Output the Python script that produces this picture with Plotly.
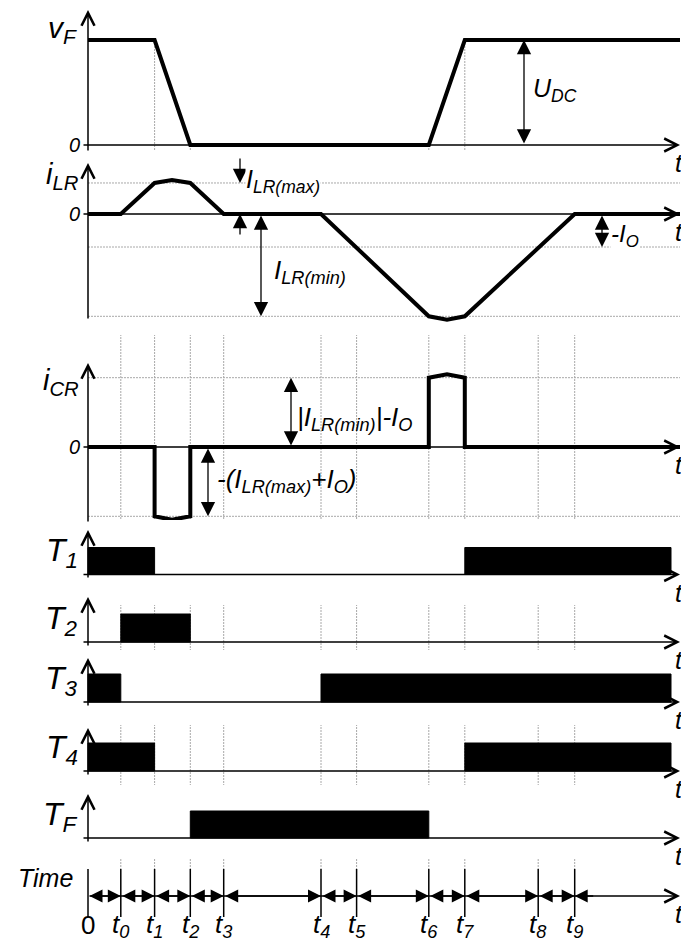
import plotly.graph_objects as go

W, H = 681, 942
FONT = "Liberation Sans, Arial, sans-serif"

# ---- switching instants (arbitrary time units) ----
TIME_LABELS = ["0", "t<sub>0</sub>", "t<sub>1</sub>", "t<sub>2</sub>", "t<sub>3</sub>",
               "t<sub>4</sub>", "t<sub>5</sub>", "t<sub>6</sub>", "t<sub>7</sub>",
               "t<sub>8</sub>", "t<sub>9</sub>"]
TIMES = [0.0, 32.8, 66.6, 102.3, 135.7, 233.0, 268.6, 340.8, 376.8, 450.2, 486.7]
t0, t1, t2, t3, t4, t5, t6, t7, t8, t9 = TIMES[1:]
BAR_END = 583.0
AXIS_END = 592.0
PEAK_1 = 84.0    # extreme of the resonant pulse between t1 and t2
PEAK_2 = 359.0   # extreme of the resonant pulse between t6 and t7

# ---- auxiliary switch voltage v_F (per unit of U_DC) ----
VF_T = [0, t1, t2, t6, t7, AXIS_END]
VF = [1, 1, 0, 0, 1, 1]

# ---- resonant inductor current i_LR ----
I_LR_MAX = 0.94
I_O = 1.0
I_LR_MIN = -3.1
ILR_T = [0, t0, t1, PEAK_1, t2, t3, t4, t6, PEAK_2, t7, t9, AXIS_END]
ILR = [0, 0, 0.94, 1.03, 0.94, 0, 0, -3.1, -3.2, -3.1, 0, 0]

# ---- resonant capacitor current i_CR ----
ICR_POS = 2.1
ICR_NEG = -2.1
ICR_T = [0, t1, t1, PEAK_1, t2, t2, t6, t6, PEAK_2, t7, t7, AXIS_END]
ICR = [0, 0, -2.1, -2.2, -2.1, 0, 0, 2.1, 2.2, 2.1, 0, 0]

# ---- gate signals: conduction intervals ----
GATES = {
    "T1": [(0, t1), (t7, BAR_END)],
    "T2": [(t0, t2)],
    "T3": [(0, t0), (t4, BAR_END)],
    "T4": [(0, t1), (t7, BAR_END)],
    "TF": [(t2, t6)],
}
GATE_TITLES = {"T1": "T<sub>1</sub>", "T2": "T<sub>2</sub>", "T3": "T<sub>3</sub>",
               "T4": "T<sub>4</sub>", "TF": "T<sub>F</sub>"}

# ---- panel geometry (pixels from the top of the page) ----
PANELS = {
    "vF":   dict(axis="y",  zero=145,   scale=105, top=0,   bottom=175, ax_top=10,  ax_bot=152),
    "iLR":  dict(axis="y2", zero=214,   scale=33,  top=150, bottom=335, ax_top=163, ax_bot=320),
    "iCR":  dict(axis="y3", zero=447,   scale=33,  top=350, bottom=535, ax_top=363, ax_bot=523),
    "T1":   dict(axis="y4", zero=574.5, scale=27,  top=520, bottom=605, ax_top=530, ax_bot=579),
    "T2":   dict(axis="y5", zero=642,   scale=28,  top=590, bottom=660, ax_top=597, ax_bot=647),
    "T3":   dict(axis="y6", zero=702,   scale=28,  top=650, bottom=725, ax_top=658, ax_bot=707),
    "T4":   dict(axis="y7", zero=771,   scale=28,  top=720, bottom=795, ax_top=728, ax_bot=776),
    "TF":   dict(axis="y8", zero=838,   scale=27,  top=785, bottom=858, ax_top=794, ax_bot=843),
    "time": dict(axis="y9", zero=896,   scale=27,  top=860, bottom=942),
}


def val(panel, px):
    p = PANELS[panel]
    return (p["zero"] - px) / p["scale"]


def paper_y(px):
    return 1 - px / H


def paper_y_val(panel, v):
    p = PANELS[panel]
    return paper_y(p["zero"] - v * p["scale"])


def paper_x(px):
    return px / W


fig = go.Figure()
shapes = []
annotations = []

LINE_W = 4


def add_wave(panel, xs, ys):
    fig.add_trace(go.Scatter(x=xs, y=ys, mode="lines", yaxis=PANELS[panel]["axis"],
                             line=dict(color="black", width=LINE_W), hoverinfo="skip"))


def arrow(panel, x, y, ax, ay, head=2, both=False, width=1.3, size=2.2):
    ref = PANELS[panel]["axis"]
    annotations.append(dict(
        x=x, y=y, ax=ax, ay=ay, xref="x", yref=ref, axref="x", ayref=ref,
        text="", showarrow=True, arrowhead=head, startarrowhead=head,
        arrowside="end+start" if both else "end",
        arrowwidth=width, arrowsize=size, startarrowsize=size,
        arrowcolor="black", standoff=0, startstandoff=0))


def label(text, xpx, ypx, size, anchor="right", color="black"):
    annotations.append(dict(
        x=paper_x(xpx), y=paper_y(ypx), xref="paper", yref="paper", text=text,
        showarrow=False, xanchor=anchor, yanchor="middle",
        font=dict(family=FONT, size=size, color=color)))


def boxed_label(text, xpx, ypx, size):
    annotations.append(dict(
        x=paper_x(xpx), y=paper_y(ypx), xref="paper", yref="paper", text=text,
        showarrow=False, xanchor="left", yanchor="middle", bgcolor="white",
        borderpad=0, font=dict(family=FONT, size=size, color="black")))


# ---- dotted vertical grid lines: from the waveform event down to the time ticks ----
GRID_START = [("iLR", 0), ("vF", 1), ("vF", 0), ("iLR", 0), ("iLR", 0),
              ("iLR", -I_O), ("vF", 0), ("vF", 1), ("iLR", -I_O), ("iLR", 0)]
tick_top = val("time", 869)
for tx, (pn, v) in zip(TIMES[1:], GRID_START):
    shapes.append(dict(type="line", xref="x", yref="paper", x0=tx, x1=tx,
                       y0=paper_y_val(pn, v), y1=paper_y_val("time", tick_top),
                       line=dict(color="#a8a8a8", width=1, dash="2px,1px"), layer="below"))

# ---- dotted horizontal reference levels ----
for pn, lv in [("iLR", I_LR_MAX), ("iLR", -I_O), ("iLR", I_LR_MIN),
               ("iCR", ICR_POS), ("iCR", ICR_NEG)]:
    shapes.append(dict(type="line", xref="x", yref=PANELS[pn]["axis"], x0=0, x1=AXIS_END,
                       y0=lv, y1=lv, line=dict(color="#a8a8a8", width=1, dash="2px,1px"),
                       layer="below"))

# ---- coordinate axes with open arrowheads ----
for pn, p in PANELS.items():
    if pn == "time":
        continue
    arrow(pn, AXIS_END, 0, -6, 0, head=5, width=1.5, size=1.7)
    arrow(pn, 0, val(pn, p["ax_top"]), 0, val(pn, p["ax_bot"]), head=5, width=1.5, size=1.7)
    label("<i>t</i>", 673, p["zero"] + 18, 25, anchor="left")
arrow("time", AXIS_END, 0, 0, 0, head=5, width=1.5, size=1.7)
label("<i>t</i>", 673, 896 + 18, 25, anchor="left")

# ---- waveforms ----
add_wave("vF", VF_T, VF)
add_wave("iLR", ILR_T, ILR)
add_wave("iCR", ICR_T, ICR)

for g, spans in GATES.items():
    for a, b in spans:
        fig.add_trace(go.Scatter(x=[a, a, b, b, a], y=[0, 1, 1, 0, 0], mode="lines",
                                 fill="toself", fillcolor="black",
                                 line=dict(color="black", width=1),
                                 yaxis=PANELS[g]["axis"], hoverinfo="skip"))

# ---- axis titles ----
label("<i>v<sub>F</sub></i>", 79, 30, 30)
label("<i>i<sub>LR</sub></i>", 81, 176, 29)
label("<i>i<sub>CR</sub></i>", 81, 382, 29)
label("<i>0</i>", 82, 145, 20)
label("<i>0</i>", 82, 214, 20)
label("<i>0</i>", 82, 447, 20)
for g in GATES:
    label("<i>%s</i>" % GATE_TITLES[g], 80, PANELS[g]["zero"] - 22, 32)
label("<i>Time</i>", 75, 878, 25)

# ---- dimension arrows and their labels ----
U_X = 436
arrow("vF", U_X, 1, U_X, 0, head=2, both=True)
label("<i>U<sub>DC</sub></i>", 531, 90, 25, anchor="left")

MAX_X = 152
arrow("iLR", MAX_X, I_LR_MAX, MAX_X, val("iLR", 157))
arrow("iLR", MAX_X, 0, MAX_X, val("iLR", 236))
boxed_label("<i>I<sub>LR(max)</sub></i>", 245, 181, 25)

MIN_X = 173
arrow("iLR", MIN_X, I_LR_MIN, MIN_X, 0, head=2, both=True)
boxed_label("<i>I<sub>LR(min)</sub></i>", 273, 272, 26)

IO_X = 514
arrow("iLR", IO_X, -I_O, IO_X, 0, head=2, both=True)
boxed_label("<i>-I<sub>O</sub></i>", 610, 236, 24)

POS_X = 203
arrow("iCR", POS_X, ICR_POS, POS_X, 0, head=2, both=True)
label("<i>|I<sub>LR(min)</sub>|-I<sub>O</sub></i>", 295, 418, 26, anchor="left")

NEG_X = 120
arrow("iCR", NEG_X, ICR_NEG, NEG_X, 0, head=2, both=True)
label("<i>-(I<sub>LR(max)</sub>+I<sub>O</sub>)</i>", 215, 480, 26, anchor="left")

# ---- time axis: ticks, interval arrows, instant labels ----
tick_bot = val("time", 917)
for tx in TIMES:
    shapes.append(dict(type="line", xref="x", yref="y9", x0=tx, x1=tx, y0=tick_bot, y1=tick_top,
                       line=dict(color="black", width=1.5)))
for a, b in zip(TIMES[:-1], TIMES[1:]):
    arrow("time", b, 0, a, 0, head=2, both=True, width=1.3, size=2.0)
arrow("time", t9, 0, t9 + 20, 0, head=2, width=1.3, size=2.0)

for tx, name in zip(TIMES, TIME_LABELS):
    txt = name if name == "0" else "<i>%s</i>" % name
    annotations.append(dict(x=tx, y=paper_y(925), xref="x", yref="paper", text=txt,
                            showarrow=False, xanchor="center", yanchor="middle",
                            font=dict(family=FONT, size=26, color="black")))

layout = dict(
    width=W, height=H, margin=dict(l=0, r=0, t=0, b=0),
    paper_bgcolor="white", plot_bgcolor="white", showlegend=False,
    xaxis=dict(range=[-88, AXIS_END + 1], visible=False, fixedrange=True),
    shapes=shapes, annotations=annotations,
)
for pn, p in PANELS.items():
    key = "yaxis" if p["axis"] == "y" else "yaxis" + p["axis"][1:]
    layout[key] = dict(domain=[1 - p["bottom"] / H, 1 - p["top"] / H],
                       range=[val(pn, p["bottom"]), val(pn, p["top"])],
                       visible=False, anchor="x", fixedrange=True)
fig.update_layout(**layout)
fig.write_html("out.html")
